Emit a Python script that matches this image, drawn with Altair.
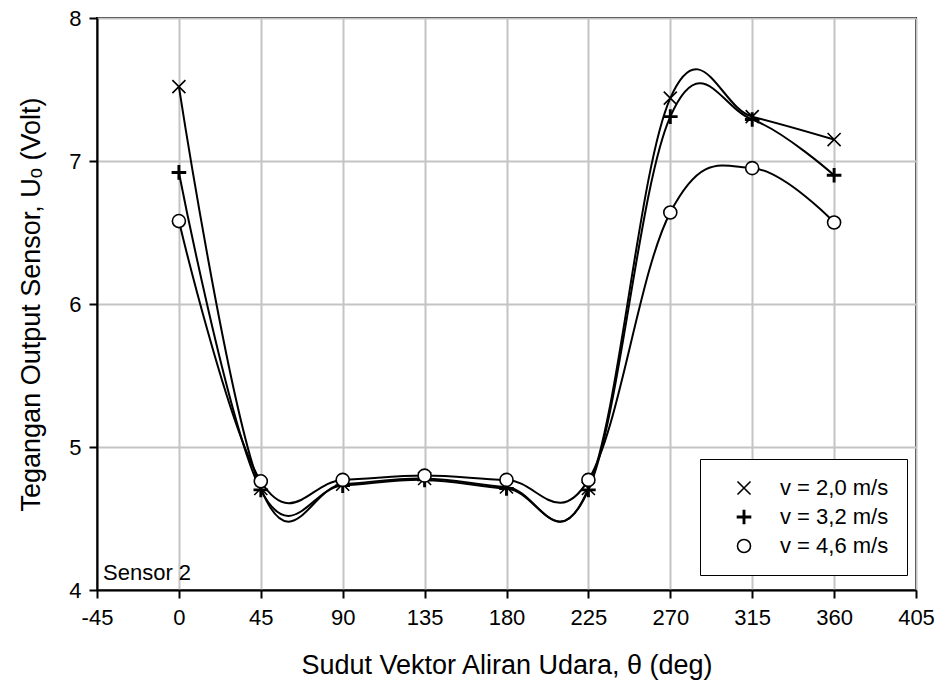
import altair as alt
import pandas as pd

# ---- data ----
theta = [0, 45, 90, 135, 180, 225, 270, 315, 360]
u_v20 = [7.52, 4.71, 4.74, 4.78, 4.72, 4.71, 7.44, 7.31, 7.15]
u_v32 = [6.92, 4.70, 4.73, 4.77, 4.71, 4.70, 7.31, 7.29, 6.90]
u_v46 = [6.58, 4.76, 4.77, 4.80, 4.77, 4.77, 6.64, 6.95, 6.57]
series_names = ["v = 2,0 m/s", "v = 3,2 m/s", "v = 4,6 m/s"]
x_ticks = [-45, 0, 45, 90, 135, 180, 225, 270, 315, 360, 405]
y_ticks = [4, 5, 6, 7, 8]
sensor_label = ["Sensor 2"]

rows = []
for name, vals in zip(series_names, [u_v20, u_v32, u_v46]):
    for t, u in zip(theta, vals):
        rows.append({"theta": t, "U": u, "series": name})
df = pd.DataFrame(rows)

X_PATH = "M-1,-1L1,1M-1,1L1,-1"
PLUS_PATH = "M-0.1,-1H0.1V-0.1H1V0.1H0.1V1H-0.1V0.1H-1V-0.1H-0.1Z"

FONT = "Liberation Sans"

x_enc = alt.X(
    "theta:Q",
    scale=alt.Scale(domain=[-45, 405], nice=False, zero=False),
    axis=alt.Axis(
        values=x_ticks, title="Sudut Vektor Aliran Udara, θ (deg)",
        labelFontSize=22, titleFontSize=27, titlePadding=24, labelPadding=9,
        labelFlush=False, labelExpr="'' + datum.value",
    ),
)
y_enc = alt.Y(
    "U:Q",
    scale=alt.Scale(domain=[4, 8], nice=False, zero=False),
    axis=alt.Axis(
        values=y_ticks, title="Tegangan Output Sensor, Uₒ (Volt)",
        labelFontSize=22, titleFontSize=27, titlePadding=23, labelPadding=8,
        labelFlush=False,
    ),
)

legend = alt.Legend(
    title=None, orient="none", legendX=603, legendY=441,
    fillColor="white", strokeColor="black",
    padding=18, rowPadding=7, symbolOffset=15, labelOffset=25,
    labelFontSize=22, labelFont=FONT, labelColor="black",
    symbolSize=170, symbolStrokeWidth=1.6, symbolStrokeColor="black",
    symbolFillColor="white", cornerRadius=0,
)

lines = alt.Chart(df).mark_line(
    interpolate="cardinal", tension=alt.ExprRef(expr="-0.15"),
    color="black", strokeWidth=2
).encode(x=x_enc, y=y_enc, detail="series:N")

points = alt.Chart(df).mark_point(
    size=170, opacity=1, strokeWidth=1.6, stroke="black"
).encode(
    x=x_enc, y=y_enc,
    shape=alt.Shape("series:N", scale=alt.Scale(domain=series_names, range=[X_PATH, PLUS_PATH, "circle"]), legend=legend),
    fill=alt.Fill("series:N", scale=alt.Scale(domain=series_names, range=["black", "black", "white"]), legend=None),
)

text = alt.Chart(pd.DataFrame({"label": sensor_label})).mark_text(
    align="left", baseline="alphabetic", fontSize=22, font=FONT, color="black"
).encode(text="label:N", x=alt.value(6), y=alt.value(562))

chart = alt.layer(lines, points, text).properties(
    width=819, height=572,
    autosize=alt.AutoSizeParams(type="none"),
    padding={"left": 97, "top": 18, "right": 24, "bottom": 100},
    background="white",
).configure(font=FONT).configure_axis(
    grid=True, gridColor="#c4c4c4", gridWidth=2,
    domainColor="black", domainWidth=2, tickColor="black", tickWidth=2, tickSize=8,
    labelColor="black", titleColor="black", labelFont=FONT, titleFont=FONT,
    titleFontWeight="normal",
).configure_view(stroke="black", strokeWidth=2)

chart.save("out.html", embed_options={"renderer": "svg", "actions": False})
